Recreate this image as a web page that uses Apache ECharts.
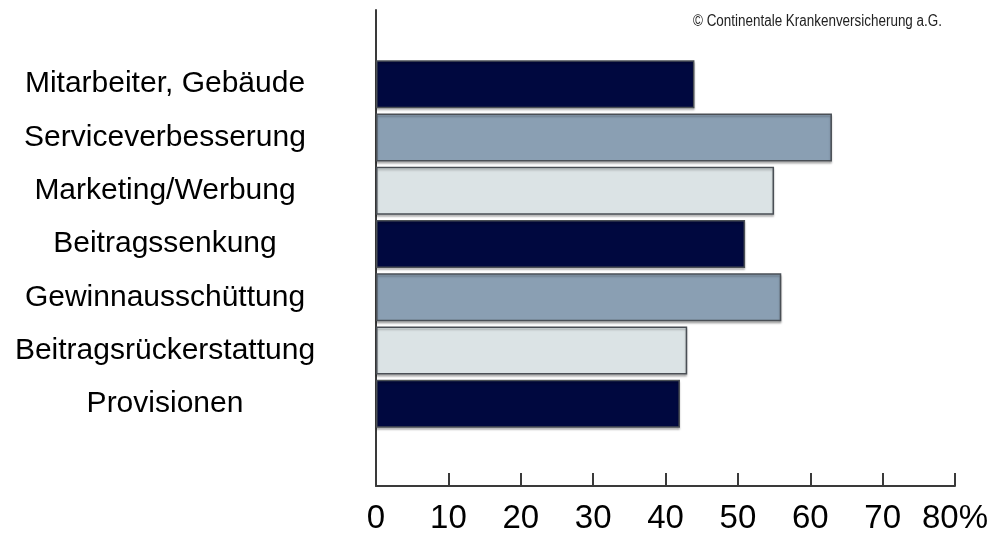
<!DOCTYPE html>
<html>
<head>
<meta charset="utf-8">
<script src="https://cdn.jsdelivr.net/npm/echarts@6/dist/echarts.min.js"></script>
<style>
  html, body { margin: 0; padding: 0; background: #ffffff; }
  #chart { width: 996px; height: 535px; }
</style>
</head>
<body>
<div id="chart"></div>
<script>
// Uses of premium surplus (percent of respondents)
const categories = [
  'Mitarbeiter, Gebäude',
  'Serviceverbesserung',
  'Marketing/Werbung',
  'Beitragssenkung',
  'Gewinnausschüttung',
  'Beitragsrückerstattung',
  'Provisionen'
];
const values = [44, 63, 55, 51, 56, 43, 42];
const xTicks = [0, 10, 20, 30, 40, 50, 60, 70, 80];
const sourceNote = '© Continentale Krankenversicherung a.G.';

// Fill colours repeat in this order down the bars
const palette = ['#00083f', '#8a9fb3', '#dbe3e5'];

const labelFont = "'Liberation Sans', Arial, sans-serif";
const axisColor = '#3a3a3a';

const chart = echarts.init(document.getElementById('chart'), null, { renderer: 'canvas' });

const barData = values.map((v, i) => ({
  value: v,
  itemStyle: { color: palette[i % palette.length] }
}));

chart.setOption({
  animation: false,
  backgroundColor: '#ffffff',
  graphic: [
    {
      // condensed source note in the top right corner
      type: 'text',
      x: 693,
      y: 14,
      scaleX: 0.84,
      style: {
        text: sourceNote,
        font: "16px 'Liberation Sans', Arial, sans-serif",
        fill: '#222222'
      }
    }
  ],
  grid: [
    // bar area
    { left: 376, right: 41, top: 57.5, bottom: 104.5 },
    // frame with the long vertical line and the scaled bottom axis
    { left: 376, right: 41, top: 10, bottom: 46 }
  ],
  xAxis: [
    {
      gridIndex: 0, type: 'value', min: xTicks[0], max: xTicks[xTicks.length - 1], interval: 10,
      show: false
    },
    {
      gridIndex: 1, type: 'value', min: xTicks[0], max: xTicks[xTicks.length - 1], interval: 10,
      axisLine: { show: true, lineStyle: { color: axisColor, width: 2 } },
      axisTick: { show: true, inside: true, length: 13, lineStyle: { color: axisColor, width: 2 } },
      splitLine: { show: false },
      axisLabel: {
        margin: 16,
        fontFamily: labelFont,
        fontSize: 33,
        color: '#000000',
        formatter: v => (v === xTicks[xTicks.length - 1] ? v + '%' : String(v))
      }
    }
  ],
  yAxis: [
    {
      gridIndex: 0, type: 'category', data: categories, inverse: true,
      axisLine: { show: false },
      axisTick: { show: false },
      axisLabel: {
        margin: 211,
        align: 'center',
        fontFamily: labelFont,
        fontSize: 30,
        color: '#000000'
      }
    },
    {
      gridIndex: 1, type: 'value', min: 0, max: 1,
      axisLine: { show: true, lineStyle: { color: axisColor, width: 2 } },
      axisTick: { show: false },
      axisLabel: { show: false },
      splitLine: { show: false }
    }
  ],
  series: [
    {
      type: 'bar',
      xAxisIndex: 0,
      yAxisIndex: 0,
      data: barData,
      barWidth: 48,
      itemStyle: {
        borderColor: '#4a4f55',
        borderWidth: 1.5,
        shadowColor: 'rgba(0,0,0,0.25)',
        shadowBlur: 2,
        shadowOffsetY: 2
      }
    }
  ]
});
</script>
</body>
</html>
